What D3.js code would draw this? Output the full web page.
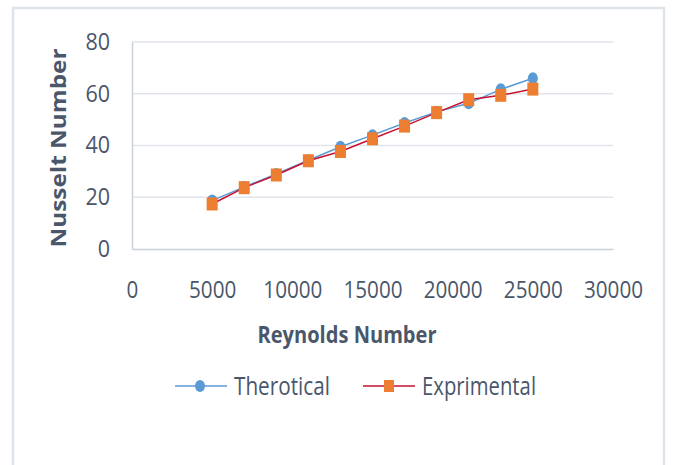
<!DOCTYPE html>
<html>
<head>
<meta charset="utf-8">
<script src="https://cdn.jsdelivr.net/npm/d3@7"></script>
<style>
  html, body { margin: 0; padding: 0; background: #fff; }
  svg { display: block; }
</style>
</head>
<body>
<svg id="chart" width="676" height="465"></svg>
<script>
// Reynolds number sample points
const reynolds = [5000, 7000, 9000, 11000, 13000, 15000, 17000, 19000, 21000, 23000, 25000];
// Nusselt number, theoretical correlation
const theoretical = [18.7, 24, 29, 34.3, 39.5, 44, 48.7, 53, 56.3, 61.7, 66];
// Nusselt number, measured
const experimental = [17.4, 23.7, 28.6, 34.1, 37.7, 42.6, 47.5, 52.7, 57.7, 59.4, 61.8];
const xTicks = [0, 5000, 10000, 15000, 20000, 25000, 30000];
const yTicks = [0, 20, 40, 60, 80];

(function draw() {
  const svg = d3.select("#chart");
  const textColor = "#4a576b";
  const font = "'Open Sans', sans-serif";
  const digitW = 11.8; // condensed digit advance

  // chart frame
  svg.append("rect")
    .attr("x", 13).attr("y", 8).attr("width", 651).attr("height", 470)
    .attr("fill", "#fff").attr("stroke", "#dfe4eb").attr("stroke-width", 2.5);

  const plotLeft = 132, plotRight = 613, plotTop = 42, plotBottom = 249;
  const x = d3.scaleLinear().domain([0, 30000]).range([plotLeft, plotRight]);
  const y = d3.scaleLinear().domain([0, 80]).range([plotBottom, plotTop]);

  // horizontal gridlines
  svg.append("g").selectAll("line").data(yTicks.filter(d => d > 0)).join("line")
    .attr("x1", plotLeft).attr("x2", plotRight)
    .attr("y1", d => y(d)).attr("y2", d => y(d))
    .attr("stroke", "#e1e5eb").attr("stroke-width", 1.5);

  // y axis
  const yAxis = svg.append("g").attr("transform", `translate(${plotLeft},0)`)
    .call(d3.axisLeft(y).tickValues(yTicks).tickSize(0).tickPadding(22));
  yAxis.select(".domain").attr("stroke", "#c9d0da").attr("stroke-width", 1.5);
  yAxis.selectAll("text")
    .attr("font-size", 23).attr("fill", textColor).attr("font-family", font)
    .attr("textLength", d => String(d).length * 12.3).attr("lengthAdjust", "spacingAndGlyphs");

  // x axis
  const xAxis = svg.append("g").attr("transform", `translate(0,${plotBottom})`)
    .call(d3.axisBottom(x).tickValues(xTicks).tickSize(0).tickPadding(33).tickFormat(d3.format("d")));
  xAxis.select(".domain").attr("stroke", "#c9d0da").attr("stroke-width", 1.5);
  xAxis.selectAll("text")
    .attr("font-size", 23).attr("fill", textColor).attr("font-family", font)
    .attr("textLength", d => String(d).length * digitW).attr("lengthAdjust", "spacingAndGlyphs");

  // axis titles
  svg.append("text")
    .attr("transform", `translate(66,148) rotate(-90)`)
    .attr("text-anchor", "middle")
    .attr("font-family", font).attr("font-weight", "bold")
    .attr("font-size", 22).attr("fill", textColor)
    .attr("textLength", 199).attr("lengthAdjust", "spacingAndGlyphs")
    .text("Nusselt Number");

  svg.append("text")
    .attr("x", 347).attr("y", 343)
    .attr("text-anchor", "middle")
    .attr("font-family", font).attr("font-weight", "bold")
    .attr("font-size", 24).attr("fill", textColor)
    .attr("textLength", 179).attr("lengthAdjust", "spacingAndGlyphs")
    .text("Reynolds Number");

  const line = d3.line().x(d => x(d[0])).y(d => y(d[1]));
  const thPts = reynolds.map((r, i) => [r, theoretical[i]]);
  const exPts = reynolds.map((r, i) => [r, experimental[i]]);

  // theoretical series
  svg.append("path").datum(thPts).attr("d", line)
    .attr("fill", "none").attr("stroke", "#5b9bd5").attr("stroke-width", 1.5);
  svg.append("g").selectAll("ellipse").data(thPts).join("ellipse")
    .attr("cx", d => x(d[0])).attr("cy", d => y(d[1])).attr("rx", 5).attr("ry", 6)
    .attr("fill", "#5b9bd5");

  // experimental series
  svg.append("path").datum(exPts).attr("d", line)
    .attr("fill", "none").attr("stroke", "#c8102e").attr("stroke-width", 1.5);
  svg.append("g").selectAll("rect").data(exPts).join("rect")
    .attr("x", d => x(d[0]) - 5.5).attr("y", d => y(d[1]) - 6.5)
    .attr("width", 11).attr("height", 13)
    .attr("fill", "#ed7d31");

  // legend
  const legend = svg.append("g").attr("transform", "translate(0,386)");
  legend.append("line").attr("x1", 175).attr("x2", 227).attr("y1", 0).attr("y2", 0)
    .attr("stroke", "#5b9bd5").attr("stroke-width", 1.5);
  legend.append("ellipse").attr("cx", 200).attr("cy", 0).attr("rx", 5).attr("ry", 6).attr("fill", "#5b9bd5");
  legend.append("text").attr("x", 234).attr("y", 9)
    .attr("font-family", font).attr("font-size", 26).attr("fill", textColor)
    .attr("textLength", 96).attr("lengthAdjust", "spacingAndGlyphs")
    .text("Therotical");
  legend.append("line").attr("x1", 363).attr("x2", 415).attr("y1", 0).attr("y2", 0)
    .attr("stroke", "#c8102e").attr("stroke-width", 1.5);
  legend.append("rect").attr("x", 384).attr("y", -6).attr("width", 10).attr("height", 12)
    .attr("fill", "#ed7d31");
  legend.append("text").attr("x", 422).attr("y", 9)
    .attr("font-family", font).attr("font-size", 26).attr("fill", textColor)
    .attr("textLength", 114).attr("lengthAdjust", "spacingAndGlyphs")
    .text("Exprimental");
})();
</script>
</body>
</html>
